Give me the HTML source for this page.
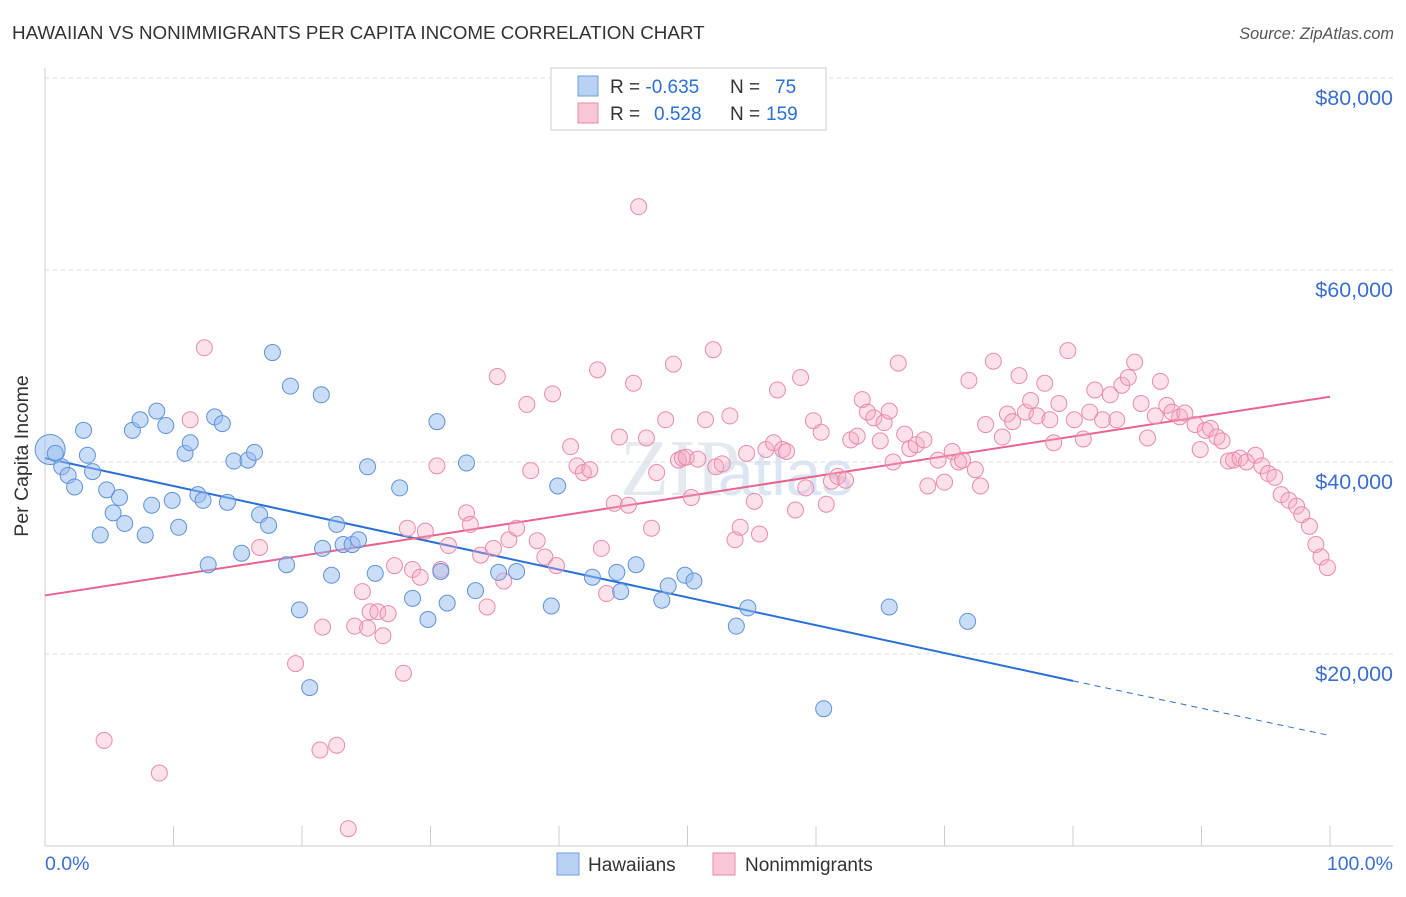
<!DOCTYPE html>
<html><head><meta charset="utf-8"><style>
body{margin:0;background:#fff;font-family:"Liberation Sans",sans-serif;}
</style></head><body>
<svg id="chart" width="1406" height="892" xmlns="http://www.w3.org/2000/svg" font-family="Liberation Sans, sans-serif">
<text x="12" y="39" font-size="18.8" fill="#333">HAWAIIAN VS NONIMMIGRANTS PER CAPITA INCOME CORRELATION CHART</text>
<text x="1394" y="39" font-size="16.3" fill="#555" font-style="italic" text-anchor="end">Source: ZipAtlas.com</text>
<text x="620" y="495" font-size="80" fill="#e4e8ef" font-family="Liberation Serif, serif">ZIP</text>
<text x="718" y="495" font-size="64" fill="#dbe5f4">atlas</text>
<g id="grid"></g><g id="axes"></g><g id="trends"></g><g id="pts"></g>
<text x="28" y="456" font-size="19.5" fill="#333" transform="rotate(-90 28 456)" text-anchor="middle">Per Capita Income</text>
<text x="45" y="870" font-size="19.5" fill="#3a6fd0">0.0%</text>
<text x="1393" y="870" font-size="19.5" fill="#3a6fd0" text-anchor="end">100.0%</text>
<g>
<rect x="551" y="68" width="275" height="62" fill="#fff" stroke="#ccc"/>
<rect x="578" y="76" width="20" height="20" fill="#b9d2f3" stroke="#6e9de0"/>
<rect x="578" y="103" width="20" height="20" fill="#f9c6d6" stroke="#e88aa8"/>
<text x="610" y="93" font-size="19" fill="#333">R = <tspan fill="#2a6fd6">-0.635</tspan><tspan x="730">N = </tspan><tspan x="775" fill="#2a6fd6">75</tspan></text>
<text x="610" y="120" font-size="19" fill="#333">R = <tspan x="654" fill="#2a6fd6">0.528</tspan><tspan x="730">N = </tspan><tspan x="766" fill="#2a6fd6">159</tspan></text>
</g>
<g>
<rect x="557" y="853" width="22" height="22" fill="#b9d2f3" stroke="#6e9de0"/>
<text x="588" y="871" font-size="19" fill="#333">Hawaiians</text>
<rect x="713" y="853" width="22" height="22" fill="#f9c6d6" stroke="#e88aa8"/>
<text x="745" y="871" font-size="19" fill="#333">Nonimmigrants</text>
</g>
</svg>
<script>
const yTicks=[20000,40000,60000,80000];
const yTickLabels=["$20,000","$40,000","$60,000","$80,000"];
const xTicks=[0,10,20,30,40,50,60,70,80,90,100];
const blueX=[0.4,0.8,1.3,1.8,2.3,3.0,3.3,3.7,4.3,4.8,5.3,5.8,6.2,6.8,7.4,7.8,8.3,8.7,9.4,9.9,10.4,10.9,11.3,11.9,12.3,12.7,13.2,13.8,14.2,14.7,15.3,15.8,16.3,16.7,17.4,17.7,18.8,19.1,19.8,20.6,21.5,21.6,22.3,22.7,23.2,23.9,24.4,25.1,25.7,27.6,28.6,29.8,30.5,30.8,31.3,32.8,33.5,35.3,36.7,39.4,39.9,42.6,44.5,44.8,46.0,48.0,48.5,49.8,50.5,53.8,54.7,60.6,65.7,71.8];
const blueY=[41.3,40.9,39.5,38.6,37.4,43.3,40.7,39.0,32.4,37.1,34.7,36.3,33.6,43.3,44.4,32.4,35.5,45.3,43.8,36.0,33.2,40.9,42.0,36.6,36.0,29.3,44.7,44.0,35.8,40.1,30.5,40.2,41.0,34.5,33.4,51.4,29.3,47.9,24.6,16.5,47.0,31.0,28.2,33.5,31.4,31.4,31.9,39.5,28.4,37.3,25.8,23.6,44.2,28.6,25.3,39.9,26.6,28.5,28.6,25.0,37.5,28.0,28.5,26.5,29.3,25.6,27.1,28.2,27.6,22.9,24.8,14.3,24.9,23.4];
const pinkX=[4.6,8.9,11.3,12.4,16.7,19.5,21.4,21.6,22.7,23.6,24.1,24.7,25.1,25.3,25.9,26.3,26.7,27.2,27.9,28.2,28.6,29.2,29.6,30.5,30.8,31.4,32.8,33.1,33.9,34.4,34.9,35.2,35.7,36.1,36.7,37.5,37.8,38.3,38.9,39.5,39.8,40.9,41.4,41.9,42.4,43.0,43.3,43.7,44.3,44.7,45.4,45.8,46.2,46.8,47.2,47.6,48.3,48.9,49.3,49.6,49.9,50.3,50.8,51.4,52.0,52.2,52.7,53.3,53.7,54.1,54.6,55.2,55.6,56.1,56.7,57.0,57.4,57.7,58.4,58.8,59.2,59.8,60.4,60.8,61.2,61.7,62.3,62.7,63.2,63.6,64.0,64.5,65.0,65.3,65.7,66.0,66.4,66.9,67.3,67.8,68.4,68.7,69.5,70.0,70.6,71.1,71.4,71.9,72.4,72.8,73.2,73.8,74.5,74.9,75.3,75.8,76.3,76.7,77.2,77.8,78.2,78.5,78.9,79.6,80.1,80.8,81.3,81.7,82.3,82.9,83.4,83.8,84.3,84.8,85.3,85.8,86.4,86.8,87.3,87.7,88.3,88.7,89.5,89.9,90.3,90.7,91.2,91.6,92.1,92.5,93.0,93.5,94.2,94.7,95.2,95.7,96.2,96.8,97.4,97.8,98.4,98.9,99.3,99.8];
const pinkY=[11.0,7.6,44.4,51.9,31.1,19.0,10.0,22.8,10.5,1.8,22.9,26.5,22.7,24.4,24.4,21.9,24.2,29.2,18.0,33.1,28.8,28.0,32.8,39.6,28.8,31.3,34.7,33.5,30.3,24.9,31.0,48.9,27.6,31.9,33.1,46.0,39.1,31.8,30.1,47.1,29.2,41.6,39.6,38.9,39.2,49.6,31.0,26.3,35.7,42.6,35.5,48.2,66.6,42.5,33.1,38.9,44.4,50.2,40.2,40.4,40.5,36.3,40.3,44.4,51.7,39.5,39.8,44.8,31.9,33.2,40.9,35.9,32.5,41.3,42.0,47.5,41.3,41.1,35.0,48.8,37.3,44.3,43.1,35.6,38.0,38.5,38.1,42.3,42.7,46.5,45.2,44.6,42.2,44.1,45.3,40.0,50.3,42.9,41.4,41.8,42.3,37.5,40.2,37.9,41.1,40.0,40.2,48.5,39.2,37.5,43.9,50.5,42.6,45.0,44.2,49.0,45.2,46.4,44.8,48.2,44.4,42.0,46.1,51.6,44.4,42.4,45.2,47.5,44.4,47.0,44.4,48.0,48.8,50.4,46.1,42.5,44.8,48.4,45.9,45.2,44.7,45.1,43.9,41.3,43.3,43.5,42.6,42.2,40.1,40.2,40.4,40.0,40.7,39.6,38.8,38.4,36.6,36.0,35.4,34.5,33.3,31.4,30.1,29.0];
const blueTrendX=[0,80,100];
const blueTrendY=[40.4,17.2,11.5];
const pinkTrendX=[0,100];
const pinkTrendY=[26.1,46.8];

const NS="http://www.w3.org/2000/svg";
const X=v=>45+v*12.85;
const Y=v=>846-v*0.0096;
const Yk=v=>Y(v*1000);
function mk(tag,attrs,parent){const e=document.createElementNS(NS,tag);for(const k in attrs)e.setAttribute(k,attrs[k]);document.getElementById(parent).appendChild(e);return e;}
yTicks.forEach((t,i)=>{
 const g=mk('line',{x1:45,x2:1393,y1:Y(t),y2:Y(t),stroke:'#dcdcdc','stroke-dasharray':'4,4'},'grid');
 
 
 const l=mk('text',{x:1393,y:Y(t)+27,'font-size':21.5,fill:'#3a6fd0','text-anchor':'end'},'grid');
 l.textContent=yTickLabels[i];
 
 
});
const ya=mk('line',{x1:45,x2:45,y1:68,y2:846,stroke:'#ccc'},'axes');


const xa=mk('line',{x1:45,x2:1393,y1:846,y2:846,stroke:'#ccc'},'axes');


xTicks.forEach(t=>{
 const tk=mk('line',{x1:X(t),x2:X(t),y1:826,y2:846,stroke:'#ccc'},'axes');
 
 
});
const bs=mk('line',{x1:X(blueTrendX[0]),y1:Yk(blueTrendY[0]),x2:X(blueTrendX[1]),y2:Yk(blueTrendY[1]),stroke:'#2a6fd6','stroke-width':2},'trends');


const bd=mk('line',{x1:X(blueTrendX[1]),y1:Yk(blueTrendY[1]),x2:X(blueTrendX[2]),y2:Yk(blueTrendY[2]),stroke:'#2a6fd6','stroke-width':1,'stroke-dasharray':'6,5'},'trends');


const pt=mk('line',{x1:X(pinkTrendX[0]),y1:Yk(pinkTrendY[0]),x2:X(pinkTrendX[1]),y2:Yk(pinkTrendY[1]),stroke:'#e8648d','stroke-width':2},'trends');


pinkX.forEach((x,i)=>{
 const c=mk('circle',{cx:X(x),cy:Yk(pinkY[i]),r:8,fill:'rgba(245,170,195,0.35)',stroke:'#e98bab','stroke-width':1},'pts');
 
 
});
blueX.forEach((x,i)=>{
 const c=mk('circle',{cx:X(x),cy:Yk(blueY[i]),r:i===0?15:8,fill:'rgba(150,188,238,0.5)',stroke:'#5f92dc','stroke-width':1},'pts');
 
 
});
</script>
</body></html>
